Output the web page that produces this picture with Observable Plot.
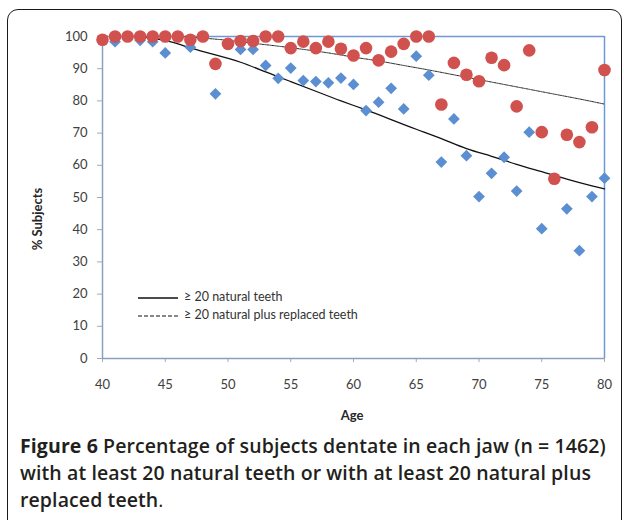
<!DOCTYPE html>
<html><head><meta charset="utf-8">
<script src="https://cdn.jsdelivr.net/npm/d3@7"></script>
<script src="https://cdn.jsdelivr.net/npm/@observablehq/plot@0.6"></script>
<style>
body{margin:0;width:624px;height:520px;overflow:hidden;background:#fff;position:relative;font-family:Lato,sans-serif;}
#frame{position:absolute;left:7px;top:9px;width:615px;height:560px;border:1.5px solid #1a1a1a;border-radius:11px;box-sizing:border-box;}
#chart{position:absolute;left:0;top:0;}
.leg{position:absolute;left:138px;font:12.5px Lato,sans-serif;color:#333;white-space:nowrap;height:14px;line-height:14px;}
.leg svg{vertical-align:middle;margin-right:6px;}
#ylab{position:absolute;left:37px;top:219px;transform:translate(-50%,-50%) rotate(-90deg);font:bold 13px Lato,sans-serif;color:#262626;white-space:nowrap;}
#xlab{position:absolute;left:352px;top:415px;transform:translate(-50%,-50%);font:bold 13px Lato,sans-serif;color:#262626;}
#cap{position:absolute;left:20px;top:432px;font-family:"Open Sans",sans-serif;font-weight:600;font-size:19.5px;letter-spacing:0.1px;line-height:27px;color:#231f20;white-space:nowrap;}
#cap b{font-weight:700;}
#cap .dot{font-weight:400;}
</style></head>
<body>
<div id="frame"></div>
<div id="chart"></div>
<div id="ylab">% Subjects</div>
<div id="xlab">Age</div>
<div class="leg" style="top:290px"><svg width="40" height="4"><line x1="0" x2="40" y1="2" y2="2" stroke="#111" stroke-width="1.4"/></svg>≥ 20 natural teeth</div>
<div class="leg" style="top:308px"><svg width="40" height="4"><line x1="0" x2="40" y1="2" y2="2" stroke="#111" stroke-width="1.2" stroke-dasharray="4,2"/></svg>≥ 20 natural plus replaced teeth</div>
<div id="cap"><b>Figure 6</b> Percentage of subjects dentate in each jaw (n = 1462)<br>with at least 20 natural teeth or with at least 20 natural plus<br>replaced teeth<span class="dot">.</span></div>
<script>
// Tick labels
const xTicks = [40,45,50,55,60,65,70,75,80];
const yTicks = [0,10,20,30,40,50,60,70,80,90,100];

// ≥ 20 natural teeth (blue diamonds)
const natAges = [41,43,44,45,47,49,51,52,53,54,55,56,57,58,59,60,61,62,63,64,65,66,67,68,69,70,71,72,73,74,75,77,78,79,80];
const natPct  = [98.4,98.8,98.4,94.9,96.7,82.2,96,96,91,87,90.2,86.3,86,85.6,87.1,85.1,77,79.6,83.9,77.5,93.9,88,61,74.4,63,50.3,57.5,62.5,52,70.3,40.3,46.5,33.5,50.3,56];

// ≥ 20 natural plus replaced teeth (red circles)
const totAges = [40,41,42,43,44,45,46,47,48,49,50,51,52,53,54,55,56,57,58,59,60,61,62,63,64,65,66,67,68,69,70,71,72,73,74,75,76,77,78,79,80];
const totPct  = [99,100,100,100,100,100,100,99,100,91.5,97.7,98.6,98.6,100,100,96.4,98.4,96.4,98.4,96.2,94.1,96.4,92.6,95.3,97.7,100,100,78.9,91.8,88.1,86.1,93.4,91.1,78.3,95.7,70.3,55.8,69.5,67.2,71.8,89.6];

// fitted trend (natural teeth)
const fitNatAges = [43,45,47,49,51,53,55,57,59,61,63,65,67,69,71,73,75,77,79,80];
const fitNatPct  = [100,98.8,96.5,94.3,92,89,86,83,80,77.2,74.2,71.2,68.3,65.2,62.8,60.3,58,55.7,53.6,52.7];

// fitted trend (natural plus replaced)
const fitTotAges = [46,48,50,52,54,56,58,60,62,64,66,68,70,72,74,76,78,80];
const fitTotPct  = [100,99.5,98.8,97.9,97,96,94.9,93.6,92.4,91,89.6,88.1,86.6,85.1,83.6,82.1,80.6,79];

const blue = "#5b8fd2", red = "#d0514e", frameBlue = "#6f97d4", axisCol = "#8a9fc4";
const nat = natAges.map((a,i)=>({age:a,pct:natPct[i]}));
const tot = totAges.map((a,i)=>({age:a,pct:totPct[i]}));
const fNat = fitNatAges.map((a,i)=>({age:a,pct:fitNatPct[i]}));
const fTot = fitTotAges.map((a,i)=>({age:a,pct:fitTotPct[i]}));

const chart = Plot.plot({
  width:624, height:400,
  marginLeft:102, marginRight:20, marginTop:36, marginBottom:42,
  style:{fontFamily:"Lato, sans-serif", fontSize:"13px", color:"#404040", background:"transparent"},
  x:{domain:[40,80]},
  y:{domain:[0,100]},
  marks:[
    Plot.axisX({ticks:xTicks, tickSize:4, tickPadding:17, stroke:"#a8a8a8", fill:"#404040", fontSize:13, label:null}),
    Plot.axisY({ticks:yTicks, tickSize:5, tickPadding:10, stroke:"#a8a8a8", fill:"#404040", fontSize:13, label:null}),
    Plot.ruleY([100],{stroke:frameBlue, strokeWidth:1.5}),
    Plot.ruleX([80],{stroke:frameBlue, strokeWidth:1.5}),
    Plot.ruleX([40],{stroke:axisCol, strokeWidth:1.5}),
    Plot.ruleY([0],{stroke:axisCol, strokeWidth:1.5}),
    Plot.line(fTot,{x:"age",y:"pct",curve:"natural",stroke:"#222",strokeWidth:1,strokeDasharray:"1.5,1"}),
    Plot.line(fNat,{x:"age",y:"pct",curve:"natural",stroke:"#111",strokeWidth:1.3}),
    Plot.dot(nat,{x:"age",y:"pct",symbol:"diamond2",r:5.3,fill:blue,stroke:"none"}),
    Plot.dot(tot,{x:"age",y:"pct",symbol:"circle",r:6.3,fill:red,stroke:"none"})
  ]
});
document.getElementById("chart").appendChild(chart);
</script>
</body></html>
